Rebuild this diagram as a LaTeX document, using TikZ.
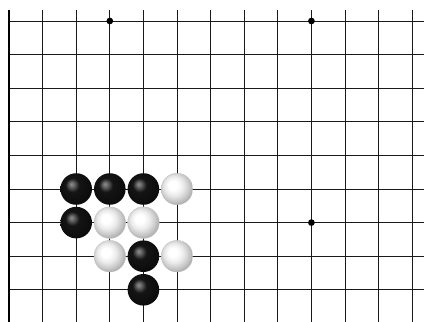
\documentclass[tikz,border=0pt]{standalone}
\pgfdeclareradialshading{wball}{\pgfpoint{-7bp}{7bp}}{color(0bp)=(white); color(7bp)=(white); color(15bp)=(black!8); color(23bp)=(black!22); color(31bp)=(black!38); color(50bp)=(black!50)}
\pgfdeclareradialshading{bball}{\pgfpoint{-8bp}{8bp}}{color(0bp)=(black!45); color(3bp)=(black!55); color(11bp)=(black!92); color(50bp)=(black)}
\tikzset{
  every picture/.style={line width=0.8pt},
  gridline/.style={draw=black!90, line width=0.8pt},
  boardedge/.style={draw=black, line width=2pt},
  hoshi/.style={fill=black},
  stone/.style={circle, minimum size=0.94cm, inner sep=0pt},
  bstone/.style={stone, shading=bball},
  wstone/.style={stone, shading=wball, draw=black!25, line width=0.3pt},
}
\begin{document}
\begin{tikzpicture}
  \useasboundingbox (-0.268,0.625) rectangle (12.351,-8.958);
  % board lines
  \foreach \r in {0,...,8} \draw[gridline] (0,-\r) -- (12.351,-\r);
  \foreach \c in {1,...,12} \draw[gridline] (\c,0.327) -- (\c,-8.958);
  \draw[boardedge] (0,0.327) -- (0,-8.958);
  \foreach \p in {(3,0),(9,0),(9,-6)} \fill[hoshi] \p circle (0.1);
  % stones
  \node[bstone] (b1) at (2,-5) {};
  \node[bstone] (b2) at (3,-5) {};
  \node[bstone] (b3) at (4,-5) {};
  \node[wstone] (w1) at (5,-5) {};
  \node[bstone] (b4) at (2,-6) {};
  \node[wstone] (w2) at (3,-6) {};
  \node[wstone] (w3) at (4,-6) {};
  \node[wstone] (w4) at (3,-7) {};
  \node[bstone] (b5) at (4,-7) {};
  \node[wstone] (w5) at (5,-7) {};
  \node[bstone] (b6) at (4,-8) {};
\end{tikzpicture}
\end{document}
